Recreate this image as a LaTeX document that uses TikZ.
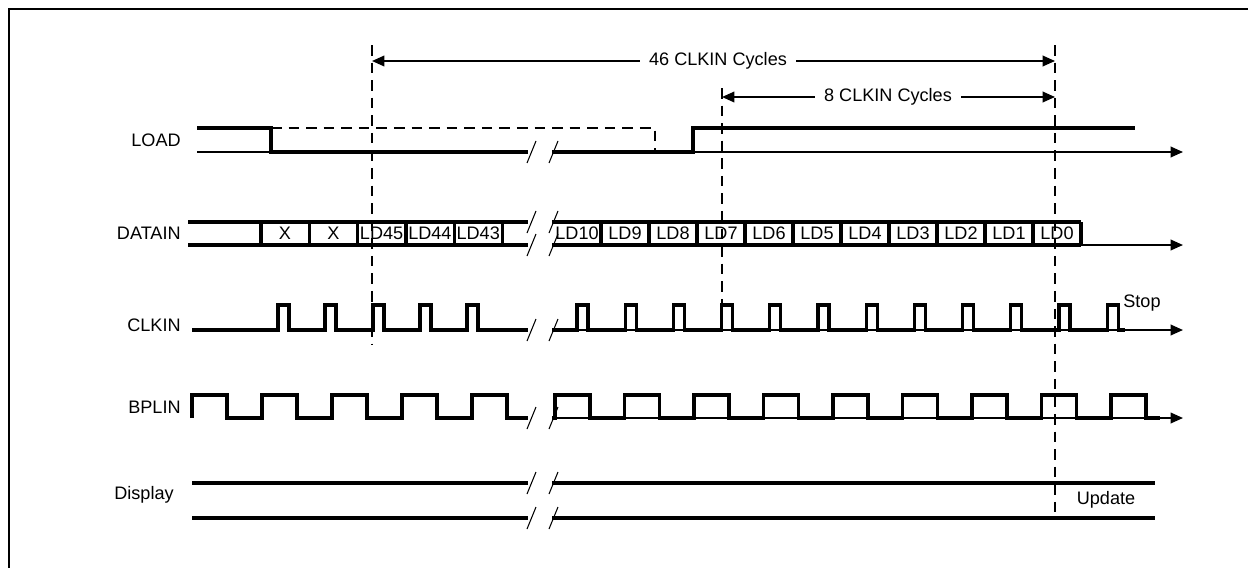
\documentclass[tikz,border=0pt]{standalone}
\usepackage{fontspec}
\setmainfont{Liberation Sans}
\usetikzlibrary{arrows.meta}

\tikzset{
  sig/.style={line width=1.9pt},
  axis/.style={line width=1pt,-{Triangle[length=7pt,width=6pt]}},
  guide/.style={line width=1.1pt,dash pattern=on 6pt off 4pt},
  brk/.style={line width=0.6pt},
  lbl/.style={font=\fontsize{10.3}{12}\selectfont,inner sep=0pt},
}

\begin{document}
\begin{tikzpicture}[x=0.02cm,y=-0.02cm]
    \useasboundingbox (0,0) rectangle (1248,568);

    % Frame
    \draw[line width=1.7pt] (9,568) -- (9,9) -- (1248,9);

    % Dashed guide lines
    \draw[guide] (372,45) -- (372,345);
    \draw[guide] (722,88) -- (722,332);
    \draw[guide] (1055,45) -- (1055,520);

    % 46 CLKIN Cycles
    \coordinate (c46l) at (372,61);
    \coordinate (c46r) at (1055,61);
    \draw[line width=1pt,{Triangle[length=7pt,width=6pt]}-{Triangle[length=7pt,width=6pt]}] (c46l) -- (c46r);
    \node[lbl,fill=white,inner xsep=5pt,inner ysep=2pt] (c46) at (718,61) {46 CLKIN Cycles};

    % 8 CLKIN Cycles
    \coordinate (c8l) at (722,97);
    \coordinate (c8r) at (1055,97);
    \draw[line width=1pt,{Triangle[length=7pt,width=6pt]}-{Triangle[length=7pt,width=6pt]}] (c8l) -- (c8r);
    \node[lbl,fill=white,inner xsep=5pt,inner ysep=2pt] (c8) at (888,97) {8 CLKIN Cycles};

    % LOAD
    \node[lbl,anchor=east] (load) at (181,140) {LOAD};
    \draw[line width=1pt] (197,152) -- (528,152);
    \draw[axis] (552,152) -- (1183,152);
    \draw[sig] (197,128) -- (271,128) -- (271,152) -- (528,152);
    \draw[sig] (552,152) -- (693,152) -- (693,128) -- (1135,128);
    \draw[guide,line width=1pt] (271,128) -- (655,128) -- (655,152);

    % DATAIN
    \node[lbl,anchor=east] (datain) at (181,233) {DATAIN};
    \draw[sig] (188,222) -- (528,222);
    \draw[sig] (188,245) -- (528,245);
    \draw[sig] (552,222) -- (1081,222);
    \draw[sig] (552,245) -- (1081,245);
    \draw[axis] (1081,245) -- (1183,245);
    \foreach \t [count=\i from 0] in {X,X,LD45,LD44,LD43} {
        \draw[sig] ({261+48.3*\i},222) -- ++(0,23);
        \node[lbl] at ({285+48.3*\i},233.5) {\t};
    }
    \draw[sig] (502.5,222) -- (502.5,245);
    \foreach \t [count=\i from 0] in {LD10,LD9,LD8,LD7,LD6,LD5,LD4,LD3,LD2,LD1,LD0} {
        \draw[sig] ({601+48*\i},222) -- ++(0,23);
        \node[lbl] at ({577+48*\i},233.5) {\t};
    }

    % CLKIN
    \node[lbl,anchor=east] (clkin) at (181,325) {CLKIN};
    \draw[sig] (192,330) \foreach \x in {278,325,373,420,467} {
        -- (\x,330) -- (\x,305) -- (\x+11,305) -- (\x+11,330) } -- (528,330);
    \draw[axis] (552,330) -- (1183,330);
    \draw[sig] (552,330) \foreach \i in {0,...,11} {
        -- ({577+48.2*\i},330) -- ++(0,-25) -- ++(11,0) -- ++(0,25) } -- (1125,330);
    \node[lbl] (stop) at (1142,303) {Stop};

    % BPLIN
    \node[lbl,anchor=east] (bplin) at (181,407) {BPLIN};
    \draw[sig] (192,418) \foreach \x in {192,262,332,402,472} {
        -- (\x,418) -- (\x,395) -- (\x+35,395) -- (\x+35,418) } -- (528,418);
    \draw[axis] (552,418) -- (1183,418);
    \draw[sig] (552,418) \foreach \i in {0,...,8} {
        -- ({555+69.5*\i},418) -- ++(0,-23) -- ++(35,0) -- ++(0,23) } -- (1160,418);

    % Display
    \node[lbl,anchor=east] (display) at (174,495) {Display};
    \draw[sig] (192,483) -- (528,483);
    \draw[sig] (552,483) -- (1155,483);
    \draw[sig] (192,518) -- (528,518);
    \draw[sig] (552,518) -- (1155,518);
    \node[lbl] (update) at (1106,500) {Update};

    % Break marks
    \foreach \y in {152,222,245,330,418,483,518} {
        \draw[brk] (527,\y+11) -- (536,\y-11);
        \draw[brk] (549,\y+11) -- (558,\y-11);
    }
\end{tikzpicture}
\end{document}
